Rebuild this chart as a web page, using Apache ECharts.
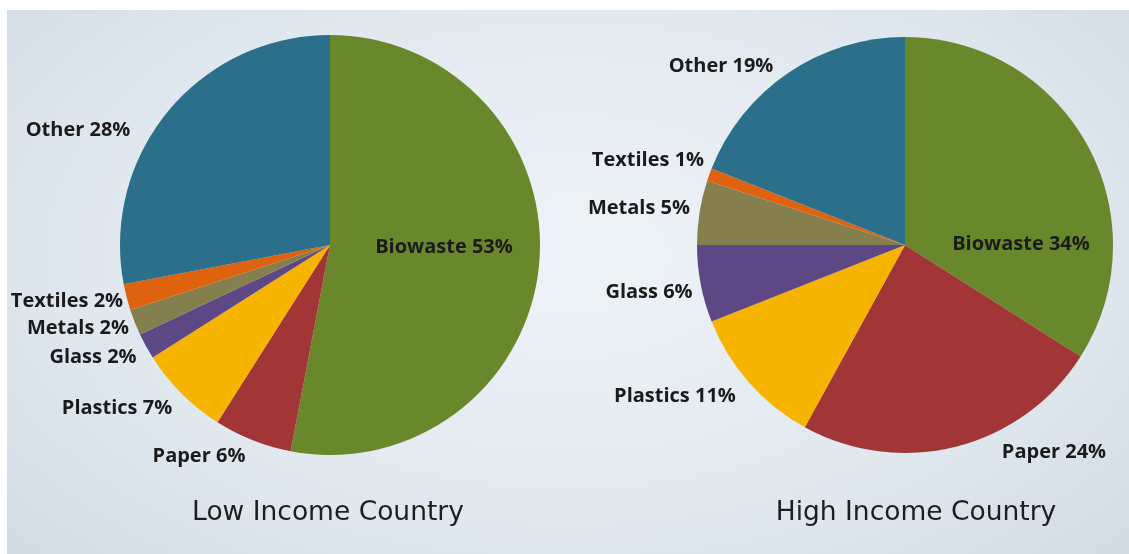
<!DOCTYPE html>
<html>
<head>
<meta charset="utf-8">
<title>Waste composition</title>
<script src="https://cdn.jsdelivr.net/npm/echarts@6/dist/echarts.min.js"></script>
<style>
  html, body { margin: 0; padding: 0; background: #ffffff; }
  #wrap { position: relative; width: 1129px; height: 554px; overflow: hidden; }
  #bg {
    position: absolute; left: 7px; top: 10px; right: 0; bottom: 0;
    background: radial-gradient(ellipse 75% 90% at 50% 45%, #eef3f7 0%, #dfe7ee 60%, #ccd8e1 100%);
  }
  #chart { position: absolute; left: 0; top: 0; width: 1129px; height: 554px; }
</style>
</head>
<body>
<div id="wrap">
  <div id="bg"></div>
  <div id="chart"></div>
</div>
<script>
// categories, clockwise from 12 o'clock
var categories = ['Biowaste', 'Paper', 'Plastics', 'Glass', 'Metals', 'Textiles', 'Other'];
var lowIncome  = [53, 6, 7, 2, 2, 2, 28];
var highIncome = [34, 24, 11, 6, 5, 1, 19];
var titles = ['Low Income Country', 'High Income Country'];

var colors = ['#69882b', '#a23536', '#f6b300', '#5d4784', '#857f4e', '#df620f', '#2b6f8a'];

// label spots (centre of text), same order as categories
var lowLabelPos  = [[444, 247], [199, 456], [117, 408], [93, 357], [78, 328], [67, 301], [78, 130]];
var highLabelPos = [[1021, 244], [1054, 452], [675, 396], [649, 292], [639, 208], [648, 160], [721, 66]];

function buildData(values) {
    return categories.map(function (name, i) {
        return { name: name, value: values[i], itemStyle: { color: colors[i] } };
    });
}

function pieSeries(values, center, radius, spots) {
    return {
        type: 'pie',
        center: center,
        radius: radius,
        startAngle: 90,
        clockwise: true,
        silent: true,
        animation: false,
        data: buildData(values),
        itemStyle: { borderWidth: 0 },
        label: {
            show: true,
            position: 'outside',
            formatter: '{b} {c}%',
            fontFamily: 'Open Sans',
            fontWeight: 'bold',
            fontSize: 20,
            color: '#1b1b1b',
            overflow: 'none'
        },
        labelLine: { show: false },
        labelLayout: function (p) {
            var s = spots[p.dataIndex];
            return { x: s[0], y: s[1], align: 'center', verticalAlign: 'middle', hideOverlap: false };
        }
    };
}

var chart = echarts.init(document.getElementById('chart'), null, { renderer: 'canvas' });

chart.setOption({
    backgroundColor: 'transparent',
    title: [
        {
            text: titles[0], left: 323, top: 495, textAlign: 'center',
            textStyle: { fontFamily: 'DejaVu Sans', fontWeight: 'normal', fontSize: 26.5, color: '#1e1e1e' }
        },
        {
            text: titles[1], left: 911, top: 495, textAlign: 'center',
            textStyle: { fontFamily: 'DejaVu Sans', fontWeight: 'normal', fontSize: 26.5, color: '#1e1e1e' }
        }
    ],
    series: [
        pieSeries(lowIncome, [330, 245], 210, lowLabelPos),
        pieSeries(highIncome, [905, 245], 208, highLabelPos)
    ]
});
</script>
</body>
</html>
